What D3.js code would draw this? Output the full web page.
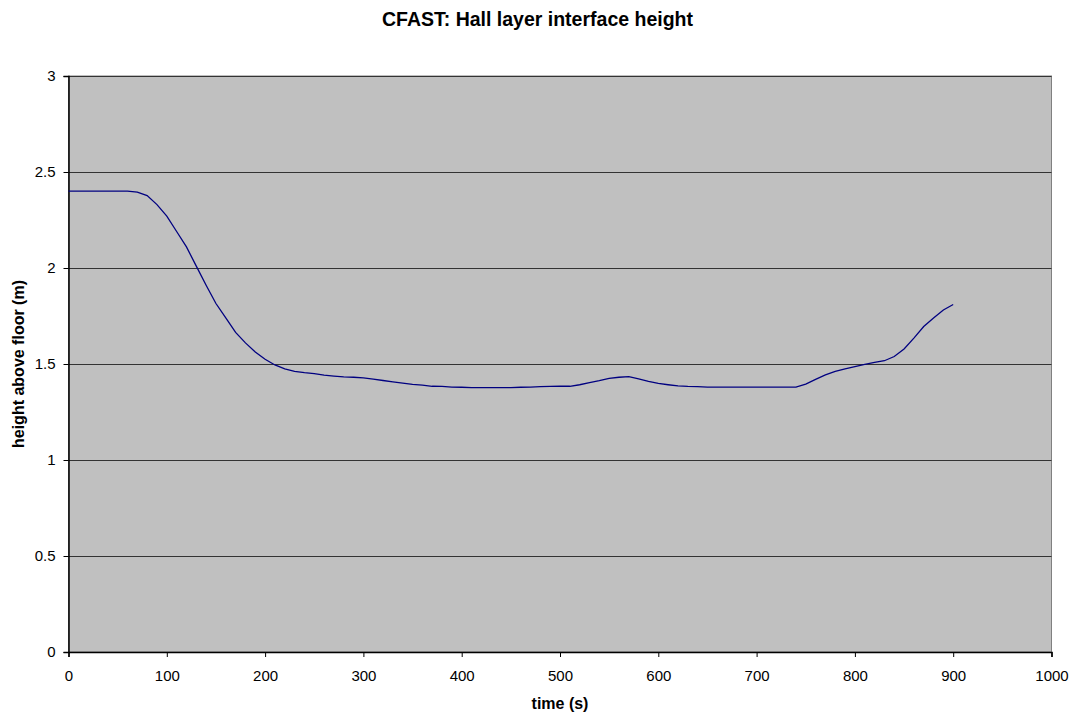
<!DOCTYPE html>
<html><head><meta charset="utf-8">
<script src="https://cdn.jsdelivr.net/npm/d3@7"></script>
<style>
body{margin:0;background:#fff;}
svg text{font-family:"Liberation Sans",Arial,sans-serif;}
</style></head>
<body>
<svg id="c" width="1072" height="714"></svg>
<script>
const times = [0,10,20,30,40,50,60,70,80,90,100,110,120,130,140,150,160,170,180,190,200,210,220,230,240,250,260,270,280,290,300,310,320,330,340,350,360,370,380,390,400,410,420,430,440,450,460,470,480,490,500,510,520,530,540,550,560,570,580,590,600,610,620,630,640,650,660,670,680,690,700,710,720,730,740,750,760,770,780,790,800,810,820,830,840,850,860,870,880,890,900];
const heights = [2.4,2.4,2.4,2.4,2.4,2.4,2.4,2.395,2.377,2.33,2.27,2.19,2.11,2.01,1.91,1.815,1.74,1.665,1.61,1.563,1.525,1.495,1.475,1.462,1.455,1.45,1.442,1.437,1.433,1.431,1.428,1.421,1.414,1.407,1.4,1.394,1.39,1.384,1.383,1.38,1.379,1.377,1.377,1.377,1.377,1.377,1.379,1.38,1.382,1.383,1.384,1.384,1.392,1.403,1.413,1.425,1.431,1.434,1.423,1.41,1.399,1.392,1.386,1.383,1.382,1.38,1.38,1.38,1.38,1.38,1.38,1.38,1.38,1.38,1.38,1.395,1.42,1.443,1.462,1.474,1.486,1.498,1.508,1.517,1.539,1.578,1.635,1.695,1.74,1.781,1.81];
const xTicks = [0,100,200,300,400,500,600,700,800,900,1000];
const yTicks = [0,0.5,1,1.5,2,2.5,3];
const title = "CFAST: Hall layer interface height";
const xLabel = "time (s)";
const yLabel = "height above floor (m)";

const svg = d3.select("#c");
const L = 68.5, R = 1051.5, T = 76, B = 652;
const x = d3.scaleLinear().domain([0,1000]).range([L,R]);
const y = d3.scaleLinear().domain([0,3]).range([B,T]);

svg.append("rect").attr("x",L).attr("y",T).attr("width",R-L).attr("height",B-T)
  .attr("fill","#c0c0c0").attr("stroke","#808080").attr("stroke-width",1);

// gridlines
svg.append("g").selectAll("line").data(yTicks.filter(d=>d>0)).join("line")
  .attr("x1",L).attr("x2",R).attr("y1",d=>Math.round(y(d))+0.5).attr("y2",d=>Math.round(y(d))+0.5)
  .attr("stroke","#333").attr("stroke-width",1);

// axes
const xa = svg.append("g").attr("transform",`translate(0,${B})`)
  .call(d3.axisBottom(x).tickValues(xTicks).tickSize(5).tickPadding(13).tickFormat(d3.format("d")));
const ya = svg.append("g").attr("transform",`translate(${L},0)`)
  .call(d3.axisLeft(y).tickValues(yTicks).tickSize(5).tickPadding(8).tickFormat(d=>String(d)));
[xa,ya].forEach(a=>{
  a.selectAll("path").attr("stroke","#000").attr("stroke-width",1.5);
  a.selectAll("line").attr("stroke","#000");
  a.selectAll("text").attr("font-size",15).attr("fill","#000").attr("font-family","'Liberation Sans',Arial,sans-serif");
});

// line
svg.append("path").datum(times.map((t,i)=>[t,heights[i]]))
  .attr("fill","none").attr("stroke","#000080").attr("stroke-width",1.3)
  .attr("d",d3.line().x(d=>x(d[0])).y(d=>y(d[1])));

svg.append("text").attr("x",537.5).attr("y",26).attr("text-anchor","middle")
  .attr("font-size",19.5).attr("font-weight","bold").text(title);
svg.append("text").attr("x",560).attr("y",708.5).attr("text-anchor","middle")
  .attr("font-size",16).attr("font-weight","bold").text(xLabel);
svg.append("text").attr("transform","translate(23.5,364) rotate(-90)").attr("text-anchor","middle")
  .attr("font-size",16).attr("font-weight","bold").text(yLabel);
</script>
</body></html>
